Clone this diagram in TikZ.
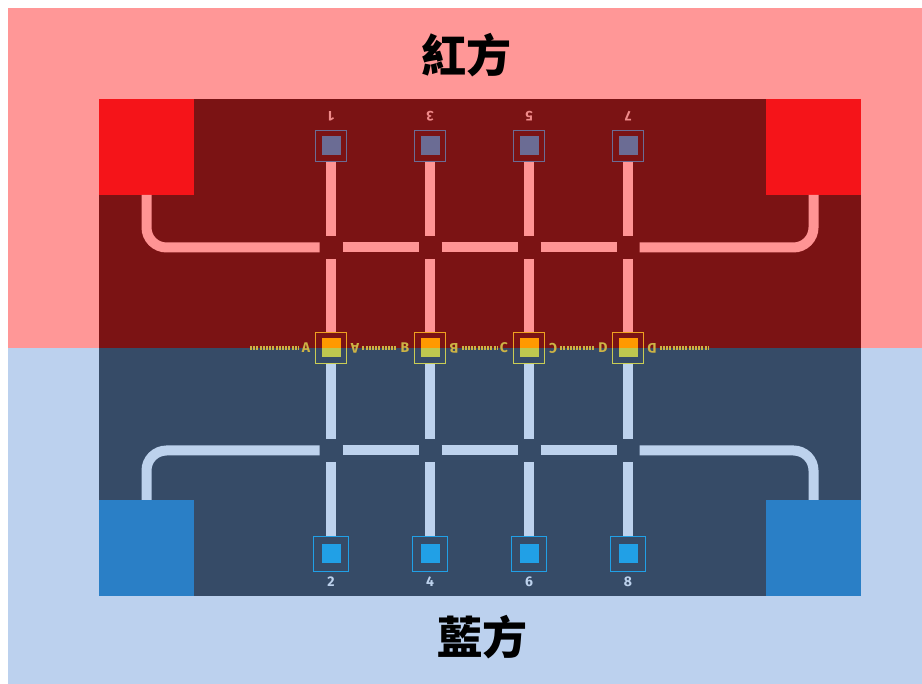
\documentclass[tikz,border=0pt]{standalone}
\usepackage{fontspec}
\setmainfont{Fira Sans}
\newfontfamily\cjk{Noto Sans CJK TC}
\usetikzlibrary{positioning}
\usetikzlibrary{calc}

\definecolor{bgred}{HTML}{FF9797}
\definecolor{bgblue}{HTML}{BCD1EE}
\definecolor{boardred}{HTML}{7B1314}
\definecolor{boardblue}{HTML}{364B67}
\definecolor{cornerred}{HTML}{F51419}
\definecolor{cornerblue}{HTML}{2A7FC6}
\definecolor{trackred}{HTML}{FF9494}
\definecolor{trackblue}{HTML}{BDD2ED}
\definecolor{padred}{HTML}{6B6C94}
\definecolor{padblue}{HTML}{21A0E6}
\definecolor{midtop}{HTML}{FF9900}
\definecolor{midtopline}{HTML}{EFA020}
\definecolor{midbot}{HTML}{BFC74F}
\definecolor{midbotline}{HTML}{C9CD55}
\definecolor{lettercol}{HTML}{CDB445}
\definecolor{numred}{HTML}{F08A8A}

\begin{document}
\begin{tikzpicture}[
    x=1pt, y=-1pt,
    corner/.style={
        minimum width=95pt,
        minimum height=96pt,
        inner sep=0pt, outer sep=0pt
    },
    pad/.style={
        draw=#1, line width=1.4pt,
        minimum size=31pt,
        inner sep=0pt, outer sep=0pt,
        path picture={\fill[#1] ($(path picture bounding box.center)+(-9.5pt,-9.5pt)$) rectangle ++(19pt,19pt);}
    },
    midpad/.style={minimum size=31pt, inner sep=0pt, outer sep=0pt},
    redtrack/.style={draw=trackred, line width=10pt},
    bluetrack/.style={draw=trackblue, line width=10pt},
    num/.style={font=\fontsize{14}{14}\selectfont\bfseries, inner sep=0pt},
    letter/.style={font=\fontsize{14}{14}\selectfont\bfseries, text=lettercol, inner sep=3pt},
    dots/.style={draw=lettercol, line width=3.5pt, dash pattern=on 2pt off 1.2pt},
    title/.style={font=\fontsize{45}{45}\selectfont\cjk\bfseries}
]
\useasboundingbox (0,0) rectangle (922,684);

% sides
\fill[bgred] (8,8) rectangle (922,348);
\fill[bgblue] (8,348) rectangle (922,684);
\node[title] (redname) at (466,55) {紅方};
\node[title] (bluename) at (482,637) {藍方};

% board
\fill[boardred] (99,99) rectangle (861,348);
\fill[boardblue] (99,348) rectangle (861,596);
\node[corner, fill=cornerred, anchor=north west] (redTL) at (99,99) {};
\node[corner, fill=cornerred, anchor=north east] (redTR) at (861,99) {};
\node[corner, fill=cornerblue, anchor=south west] (blueBL) at (99,596) {};
\node[corner, fill=cornerblue, anchor=south east] (blueBR) at (861,596) {};

% pads and junctions
\foreach \i/\x/\top/\bot/\L in {1/331/1/2/A, 2/430/3/4/B, 3/529/5/6/C, 4/628/7/8/D} {
    \node[pad=padred] (t\i) at (\x,146) {};
    \node[num, text=numred, rotate=180] (tn\i) at (\x,116) {\top};
    \node[pad=padblue, minimum size=35pt] (d\i) at (\x,554) {};
    \node[num, text=trackblue] (dn\i) at (\x,582) {\bot};
    \node[midpad] (m\i) at (\x,348) {};
    \draw[midtopline, line width=1.4pt] (m\i.west) |- (m\i.north) -| (m\i.east);
    \draw[midbotline, line width=1.4pt] (m\i.west) |- (m\i.south) -| (m\i.east);
    \fill[midtop] ($(m\i.center)+(-9.5,-9.5)$) rectangle ($(m\i.center)+(9.5,0)$);
    \fill[midbot] ($(m\i.center)+(-9.5,0)$) rectangle ($(m\i.center)+(9.5,9.5)$);
    \node[letter] (la\i) at (\x-25,348) {\L};
    \node[letter, rotate=180] (lb\i) at (\x+24,348) {\L};
    \coordinate (r\i) at (\x,247.5);
    \coordinate (b\i) at (\x,450.5);
    % tracks
    \draw[redtrack, shorten <=0.7pt, shorten >=11.5pt] (t\i.south) -- (r\i);
    \draw[redtrack, shorten <=11.5pt, shorten >=0.7pt] (r\i) -- (m\i.north);
    \draw[bluetrack, shorten <=0.7pt, shorten >=11.5pt] (m\i.south) -- (b\i);
    \draw[bluetrack, shorten <=11.5pt, shorten >=0.7pt] (b\i) -- (d\i.north);
}
\foreach \a/\b in {1/2, 2/3, 3/4} {
    \draw[redtrack, shorten <=11.5pt, shorten >=11.5pt] (r\a) -- (r\b);
    \draw[bluetrack, shorten <=11.5pt, shorten >=11.5pt] (b\a) -- (b\b);
}
\draw[redtrack, rounded corners=20pt, shorten >=11.5pt] (redTL.south) |- (r1);
\draw[redtrack, rounded corners=20pt, shorten >=11.5pt] (redTR.south) |- (r4);
\draw[bluetrack, rounded corners=20pt, shorten >=11.5pt] (blueBL.north) |- (b1);
\draw[bluetrack, rounded corners=20pt, shorten >=11.5pt] (blueBR.north) |- (b4);

% centre line
\coordinate (lineL) at (250,348);
\coordinate (lineR) at (708,348);
\draw[dots] (lineL) -- (la1);
\draw[dots] (lb1) -- (la2);
\draw[dots] (lb2) -- (la3);
\draw[dots] (lb3) -- (la4);
\draw[dots] (lb4) -- (lineR);
\end{tikzpicture}
\end{document}
